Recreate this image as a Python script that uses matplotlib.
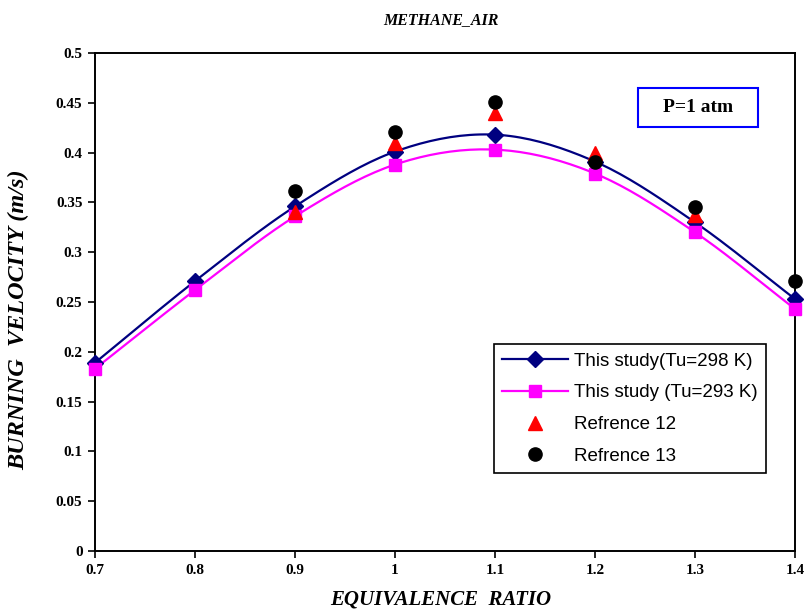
import matplotlib
matplotlib.use("Agg")
import matplotlib.pyplot as plt
from matplotlib.patches import Rectangle
import numpy as np

# equivalence ratio
phi = [0.7, 0.8, 0.9, 1.0, 1.1, 1.2, 1.3, 1.4]
# this study, Tu = 298 K
su_298 = [0.189, 0.271, 0.346, 0.401, 0.418, 0.391, 0.330, 0.253]
# this study, Tu = 293 K
su_293 = [0.183, 0.262, 0.336, 0.388, 0.403, 0.379, 0.320, 0.243]
# reference data
phi_ref12 = [0.9, 1.0, 1.1, 1.2, 1.3]
su_ref12 = [0.340, 0.410, 0.440, 0.400, 0.337]
phi_ref13 = [0.9, 1.0, 1.1, 1.2, 1.3, 1.4]
su_ref13 = [0.361, 0.421, 0.451, 0.391, 0.345, 0.271]

labels = ["This study(Tu=298 K)", "This study (Tu=293 K)",
          "Refrence 12", "Refrence 13"]


def smooth(x, y, n=20):
    """Catmull-Rom curve through the points (like Excel smoothed line)"""
    x = np.asarray(x, float)
    y = np.asarray(y, float)
    px = np.concatenate([[2 * x[0] - x[1]], x, [2 * x[-1] - x[-2]]])
    py = np.concatenate([[2 * y[0] - y[1]], y, [2 * y[-1] - y[-2]]])
    xs, ys = [], []
    t = np.linspace(0, 1, n, endpoint=False)
    for i in range(1, len(px) - 2):
        for p, out in ((px, xs), (py, ys)):
            p0, p1, p2, p3 = p[i - 1], p[i], p[i + 1], p[i + 2]
            out.extend(0.5 * (2 * p1 + (-p0 + p2) * t
                              + (2 * p0 - 5 * p1 + 4 * p2 - p3) * t ** 2
                              + (-p0 + 3 * p1 - 3 * p2 + p3) * t ** 3))
    xs.append(x[-1])
    ys.append(y[-1])
    return np.array(xs), np.array(ys)


serif = "Liberation Serif"
sans = "Liberation Sans"
navy = "#000080"
magenta = "#ff00ff"

fig = plt.figure(figsize=(8.08, 6.12), dpi=100)
ax = fig.add_axes([95 / 808, 61 / 612, 700 / 808, 498 / 612])

sx, sy = smooth(phi, su_298)
ax.plot(sx, sy, color=navy, lw=1.6, zorder=2)
ax.plot(phi, su_298, ls="none", marker="D", ms=8.5, color=navy, zorder=3,
        clip_on=False)
sx, sy = smooth(phi, su_293)
ax.plot(sx, sy, color=magenta, lw=1.6, zorder=2)
ax.plot(phi, su_293, ls="none", marker="s", ms=9, color=magenta, zorder=3,
        clip_on=False)
ax.plot(phi_ref12, su_ref12, ls="none", marker="^", ms=10, color="red",
        zorder=4, clip_on=False)
ax.plot(phi_ref13, su_ref13, ls="none", marker="o", ms=9.5, color="black",
        zorder=5, clip_on=False)

# legend handles
h1, = ax.plot([], [], color=navy, lw=1.6, marker="D", ms=8.5)
h2, = ax.plot([], [], color=magenta, lw=1.6, marker="s", ms=9)
h3, = ax.plot([], [], ls="none", marker="^", ms=10, color="red")
h4, = ax.plot([], [], ls="none", marker="o", ms=9.5, color="black")
leg = ax.legend([h1, h2, h3, h4], labels,
                loc="upper left", bbox_to_anchor=(399 / 700, 207 / 498),
                borderaxespad=0, prop={"family": sans, "size": 13.5},
                frameon=True, fancybox=False, edgecolor="black",
                framealpha=1, borderpad=0.45, labelspacing=0.78,
                handlelength=3.5, handletextpad=0.3)
leg.get_frame().set_linewidth(1.2)

# pressure box
ax.add_patch(Rectangle((543 / 700, 424 / 498), 120 / 700, 39 / 498,
                       transform=ax.transAxes, fc="white", ec="blue",
                       lw=1.5, zorder=6))
ax.text(603 / 700, 443.5 / 498, "P=1 atm", transform=ax.transAxes,
        ha="center", va="center", family=serif, fontweight="bold",
        fontsize=14, zorder=7)

ax.set_xlim(0.7, 1.4)
ax.set_ylim(0, 0.5)
ax.set_xticks(np.arange(0.7, 1.41, 0.1))
ax.set_xticklabels(["0.7", "0.8", "0.9", "1", "1.1", "1.2", "1.3", "1.4"])
ax.set_yticks(np.arange(0, 0.501, 0.05))
ax.set_yticklabels(["0", "0.05", "0.1", "0.15", "0.2", "0.25", "0.3",
                    "0.35", "0.4", "0.45", "0.5"])
for lab in ax.get_xticklabels() + ax.get_yticklabels():
    lab.set_family(serif)
    lab.set_fontweight("bold")
    lab.set_fontsize(11)
ax.tick_params(direction="out", length=5, width=1.2, pad=4)
for s in ax.spines.values():
    s.set_linewidth(1.4)

fig.text(441 / 808, 1 - 20 / 612, "METHANE_AIR", family=serif,
         fontweight="bold", style="italic", fontsize=11.5,
         ha="center", va="center")
fig.text(441 / 808, 1 - 600 / 612, "EQUIVALENCE  RATIO", family=serif,
         fontweight="bold", style="italic", fontsize=15,
         ha="center", va="center")
fig.text(19 / 808, 1 - 320 / 612, "BURNING  VELOCITY (m/s)", family=serif,
         fontweight="bold", style="italic", fontsize=17.5,
         ha="center", va="center", rotation=90)

fig.savefig("out.png", dpi=100)
